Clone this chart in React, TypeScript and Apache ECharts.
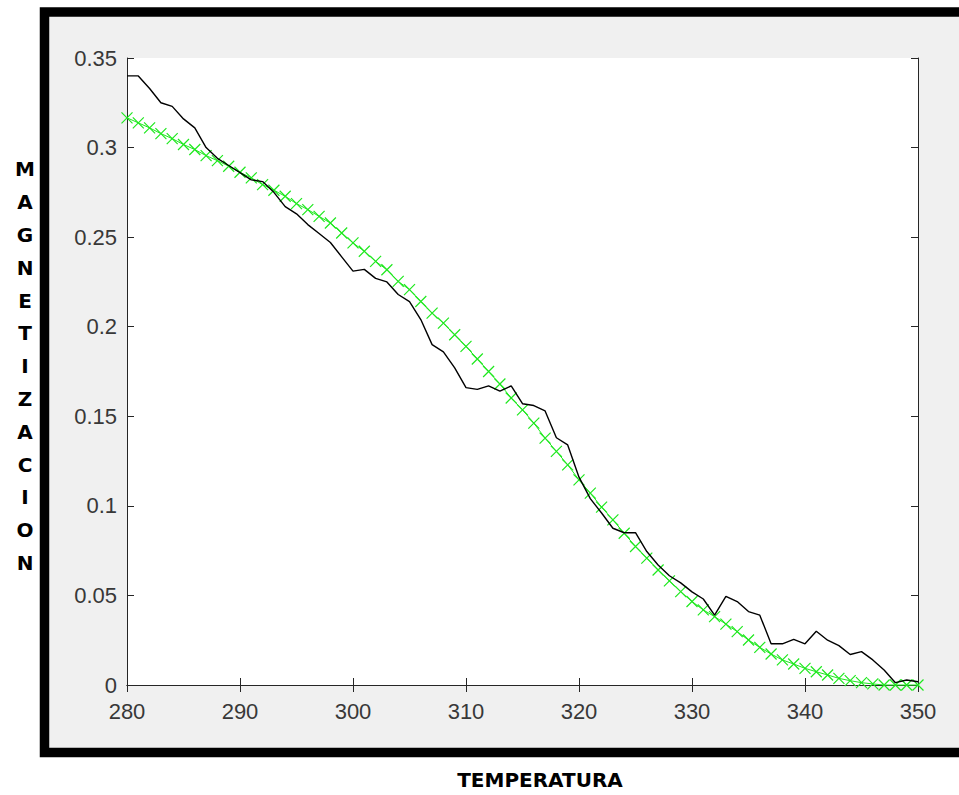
import React, { useEffect, useRef } from "react";
import * as echarts from "echarts";

// Temperature axis (x) values
const temperatures: number[] = [
  280, 281, 282, 283, 284, 285, 286, 287, 288, 289,
  290, 291, 292, 293, 294, 295, 296, 297, 298, 299,
  300, 301, 302, 303, 304, 305, 306, 307, 308, 309,
  310, 311, 312, 313, 314, 315, 316, 317, 318, 319,
  320, 321, 322, 323, 324, 325, 326, 327, 328, 329,
  330, 331, 332, 333, 334, 335, 336, 337, 338, 339,
  340, 341, 342, 343, 344, 345, 346, 347, 348, 349, 350,
];

// Simulated magnetization (black, noisy)
const magnetizationSim: number[] = [
  0.340, 0.340, 0.333, 0.325, 0.323, 0.316, 0.311, 0.300, 0.294, 0.290,
  0.286, 0.282, 0.281, 0.275, 0.267, 0.263, 0.257, 0.252, 0.247, 0.239,
  0.231, 0.232, 0.227, 0.225, 0.218, 0.214, 0.204, 0.190, 0.186, 0.177,
  0.166, 0.165, 0.167, 0.164, 0.167, 0.157, 0.156, 0.153, 0.138, 0.134,
  0.116, 0.104, 0.096, 0.0875, 0.085, 0.085, 0.0745, 0.067, 0.061, 0.057,
  0.052, 0.048, 0.039, 0.0495, 0.0466, 0.041, 0.039, 0.023, 0.023, 0.0255,
  0.023, 0.030, 0.025, 0.022, 0.017, 0.0186, 0.014, 0.0084, 0.0013, 0.0028, 0.0018,
];

// Fitted magnetization (green, x markers)
const magnetizationFit: number[] = [
  0.3166, 0.3138, 0.311, 0.3078, 0.305, 0.3017, 0.2989, 0.2955, 0.2927, 0.2896,
  0.2862, 0.2831, 0.2793, 0.2762, 0.2728, 0.2687, 0.2654, 0.2616, 0.2579, 0.2523,
  0.2468, 0.2421, 0.2365, 0.2318, 0.2253, 0.2207, 0.2141, 0.2076, 0.202, 0.1955,
  0.189, 0.182, 0.175, 0.168, 0.1602, 0.1536, 0.1462, 0.1378, 0.1304, 0.1229,
  0.1145, 0.1071, 0.0993, 0.0922, 0.0847, 0.0773, 0.0708, 0.0642, 0.0581, 0.0521,
  0.0466, 0.0419, 0.0382, 0.034, 0.0298, 0.0251, 0.021, 0.0173, 0.014, 0.0117,
  0.0093, 0.0074, 0.0056, 0.0037, 0.0024, 0.0013, 0.0006, 0.0, 0.0, 0.0, 0.0,
];

const xMin = 280;
const xMax = 350;
const xStep = 10;
const yMin = 0;
const yMax = 0.35;
const yStep = 0.05;

const yTitle = "MAGNETIZACION";
const xTitle = "TEMPERATURA";

export default function App() {
  const ref = useRef<HTMLDivElement>(null);

  useEffect(() => {
    if (!ref.current) return;
    const chart = echarts.init(ref.current, undefined, { renderer: "svg" });
    const axisColor = "#262626";
    const labelStyle = {
      color: "#383838",
      fontFamily: "Liberation Sans, Arial, sans-serif",
      fontSize: 22,
    };
    const tickStyle = { inside: true, length: 7, lineStyle: { color: axisColor, width: 1 } };
    const lineStyle = { show: true, lineStyle: { color: axisColor, width: 1 } };
    const titleFont = "bold 20px 'DejaVu Sans', Verdana, sans-serif";

    chart.setOption({
      animation: false,
      backgroundColor: "#ffffff",
      grid: {
        left: 127,
        top: 58,
        width: 791,
        height: 627,
        show: true,
        backgroundColor: "#ffffff",
        borderWidth: 0,
      },
      graphic: [
        {
          type: "rect",
          z: -10,
          silent: true,
          shape: { x: 44.5, y: 12, width: 960, height: 740.5 },
          style: { fill: "#f0f0f0", stroke: "#000000", lineWidth: 9.5 },
        },
        {
          type: "text",
          x: 25,
          y: 153,
          silent: true,
          style: {
            text: yTitle.split("").join("\n"),
            fill: "#000000",
            font: titleFont,
            lineHeight: 32.8,
            align: "center",
            verticalAlign: "top",
          },
        },
        {
          type: "text",
          x: 540,
          y: 780,
          silent: true,
          style: {
            text: xTitle,
            fill: "#000000",
            font: titleFont,
            align: "center",
            verticalAlign: "middle",
          },
        },
      ],
      xAxis: [
        {
          type: "value",
          min: xMin,
          max: xMax,
          interval: xStep,
          position: "bottom",
          axisLine: lineStyle,
          axisTick: tickStyle,
          axisLabel: { ...labelStyle, margin: 15 },
          splitLine: { show: false },
        },
        {
          type: "value",
          min: xMin,
          max: xMax,
          interval: xStep,
          position: "top",
          axisLine: lineStyle,
          axisTick: tickStyle,
          axisLabel: { show: false },
          splitLine: { show: false },
        },
      ],
      yAxis: [
        {
          type: "value",
          min: yMin,
          max: yMax,
          interval: yStep,
          position: "left",
          axisLine: lineStyle,
          axisTick: tickStyle,
          axisLabel: {
            ...labelStyle,
            margin: 10,
            formatter: (v: number) => String(Math.round(v * 100) / 100),
          },
          splitLine: { show: false },
        },
        {
          type: "value",
          min: yMin,
          max: yMax,
          interval: yStep,
          position: "right",
          axisLine: lineStyle,
          axisTick: tickStyle,
          axisLabel: { show: false },
          splitLine: { show: false },
        },
      ],
      series: [
        {
          name: "fit",
          type: "line",
          data: temperatures.map((t, i) => [t, magnetizationFit[i]]),
          symbol: "path://M0,0L10,10M0,10L10,0",
          symbolSize: 11,
          showSymbol: true,
          itemStyle: { color: "rgba(0,0,0,0)", borderColor: "#1ee81e", borderWidth: 1.2 },
          lineStyle: { color: "#1ee81e", width: 1 },
          clip: false,
          z: 2,
        },
        {
          name: "sim",
          type: "line",
          data: temperatures.map((t, i) => [t, magnetizationSim[i]]),
          showSymbol: false,
          symbol: "none",
          lineStyle: { color: "#000000", width: 1.4 },
          z: 3,
        },
      ],
    });
    return () => chart.dispose();
  }, []);

  return (
    <div
      ref={ref}
      style={{ position: "fixed", left: 0, top: 0, width: 959, height: 795 }}
    />
  );
}
